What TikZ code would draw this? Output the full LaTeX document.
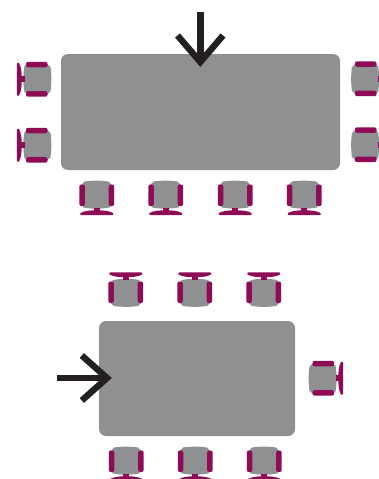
\documentclass[tikz,border=0pt]{standalone}
\definecolor{tablegray}{HTML}{8F9092}
\definecolor{chairred}{HTML}{8E0B56}
\definecolor{arrowink}{HTML}{231F20}
\tikzset{
  x=1pt,y=-1pt,
  tablebox/.style={fill=tablegray,rounded corners=7pt,inner sep=0pt,outer sep=0pt,minimum width=#1},
  chairpart/.style={fill=chairred,draw=none},
  pointer/.style={draw=arrowink,line width=6.4pt,line join=miter,miter limit=10},
  chair/.pic={
    \fill[tablegray] (-12,-13.5) .. controls (-5,-14.6) and (5,-14.6) .. (12,-13.5)
      -- (15.5,-10) -- (15.5,9) -- (13,12.5) .. controls (5,14) and (-5,14) .. (-13,12.5)
      -- (-15.5,9) -- (-15.5,-10) -- cycle;
    \fill[chairpart,rounded corners=2pt] (-17.2,-10.5) rectangle (-11.7,11);
    \fill[chairpart,rounded corners=2pt] (12.2,-10.5) rectangle (17.7,11);
    \fill[chairpart] (-2.7,12.5) rectangle (3.3,16);
    \fill[chairpart] (-16,18) .. controls (-12,15.8) and (-7,15.3) .. (0.3,15.3)
      .. controls (7.5,15.3) and (12.5,15.8) .. (16.5,18)
      .. controls (17.3,19.4) and (16.5,20.2) .. (15,20.2)
      -- (-14.5,20.2) .. controls (-16,20.2) and (-16.8,19.4) .. (-16,18) -- cycle;
  }
}
\begin{document}
\begin{tikzpicture}
  \clip (0,0) rectangle (379,479);
  \fill[white] (0,0) rectangle (379,479);
  \node[tablebox=279pt,minimum height=116pt] (tableA) at (200.5,112) {};
  \node[tablebox=196pt,minimum height=115pt] (tableB) at (197,378.5) {};
  % first table, chairs
  \pic[rotate=-90] at (37,79) {chair};
  \pic[rotate=-90] at (37,145) {chair};
  \pic[rotate=90] at (365.5,79) {chair};
  \pic[rotate=90] at (365.5,145) {chair};
  \pic at (96.5,195) {chair};
  \pic at (165.5,195) {chair};
  \pic at (235,195) {chair};
  \pic at (304,195) {chair};
  % second table, chairs
  \pic[rotate=180] at (126,292.5) {chair};
  \pic[rotate=180] at (195,292.5) {chair};
  \pic[rotate=180] at (264,292.5) {chair};
  \pic[rotate=90] at (323,378.5) {chair};
  \pic at (126,461) {chair};
  \pic at (195,461) {chair};
  \pic at (264,461) {chair};
  % arrows
  \coordinate (downTail) at (200.3,12.3);
  \coordinate (downTip) at (200.3,62);
  \coordinate (downL) at (177.5,35.5);
  \coordinate (downR) at (223,35.5);
  \draw[pointer] (downTail) -- (downTip);
  \draw[pointer] (downL) -- (downTip) -- (downR);
  \coordinate (rightTail) at (56.7,378);
  \coordinate (rightTip) at (107,378);
  \coordinate (rightU) at (81.8,355.5);
  \coordinate (rightD) at (81.8,400.5);
  \draw[pointer] (rightTail) -- (rightTip);
  \draw[pointer] (rightU) -- (rightTip) -- (rightD);
\end{tikzpicture}
\end{document}
